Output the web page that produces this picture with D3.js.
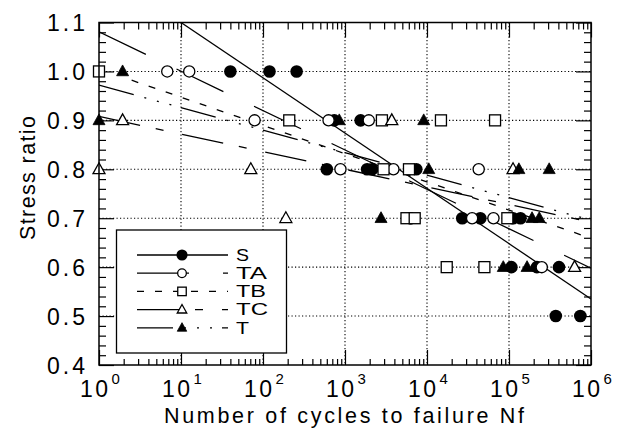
<!DOCTYPE html>
<html>
<head>
<meta charset="utf-8">
<script src="https://cdn.jsdelivr.net/npm/d3@7"></script>
<style>
  html, body { margin: 0; padding: 0; background: #fff; }
  svg { display: block; }
  text { font-family: "Liberation Sans", Arial, Helvetica, sans-serif; fill: #000; }
</style>
</head>
<body>
<svg id="chart" width="631" height="430"></svg>
<script>
// ---------------- DATA ----------------
const seriesNames = ["S", "TA", "TB", "TC", "T"];

// number of cycles (N) and stress ratio for each series
const sN  = [40, 120, 257, 740, 1550, 600, 1860, 2140, 7400, 26900, 44700, 112000, 138000, 107000, 219000, 407000, 372000, 741000];
const sV  = [1.0, 1.0, 1.0, 0.9, 0.9, 0.8, 0.8, 0.8, 0.8, 0.7, 0.7, 0.7, 0.7, 0.6, 0.6, 0.6, 0.5, 0.5];

const taN = [6.8, 12.6, 79, 630, 1950, 880, 3890, 42700, 6300, 35500, 64600, 251000];
const taV = [1.0, 1.0, 0.9, 0.9, 0.9, 0.8, 0.8, 0.8, 0.7, 0.7, 0.7, 0.6];

const tbN = [1, 209, 2820, 14800, 67600, 2950, 6030, 5620, 7080, 95500, 17400, 50100];
const tbV = [1.0, 0.9, 0.9, 0.9, 0.9, 0.8, 0.8, 0.7, 0.7, 0.7, 0.6, 0.6];

const tcN = [1.94, 3720, 1, 71, 112000, 190, 631000];
const tcV = [0.9, 0.9, 0.8, 0.8, 0.8, 0.7, 0.6];

const tN  = [1.94, 1, 851, 9120, 10500, 132000, 309000, 2750, 191000, 234000, 85100, 166000];
const tV  = [1.0, 0.9, 0.9, 0.9, 0.8, 0.8, 0.8, 0.7, 0.7, 0.7, 0.6, 0.6];

// fitted lines: start / end (N, stress ratio)
const fitN0 = [10, 1, 2.5, 1, 1];
const fitV0 = [1.1, 1.081, 0.982, 0.908, 0.972];
const fitN1 = [1e6, 1e6, 1e6, 1e6, 1e6];
const fitV1 = [0.535, 0.598, 0.659, 0.692, 0.696];

// axis ticks
const xDecades = [1, 10, 100, 1000, 10000, 100000, 1000000];
const xExponents = ["0", "1", "2", "3", "4", "5", "6"];
const yTickVals = [0.4, 0.5, 0.6, 0.7, 0.8, 0.9, 1.0, 1.1];
const yTickLabels = ["0.4", "0.5", "0.6", "0.7", "0.8", "0.9", "1.0", "1.1"];

// ---------------- STYLE ----------------
const dashes = [null, "52,34", "7,11", "42,16,8,19", "36,11,2,11,2,11,2,10"];
const markerKind = ["fcircle", "ocircle", "osquare", "otri", "ftri"];

const svg = d3.select("#chart");
const L = 99, R = 591, T = 22.5, B = 365;
const x = d3.scaleLog().domain([1, 1e6]).range([L, R]);
const y = d3.scaleLinear().domain([0.4, 1.1]).range([B, T]);

svg.append("rect").attr("width", 631).attr("height", 430).attr("fill", "#fff");

svg.append("defs").append("clipPath").attr("id", "plotclip")
  .append("rect").attr("x", L).attr("y", T).attr("width", R - L).attr("height", B - T);

// gridlines
const grid = svg.append("g").attr("stroke", "#000").attr("stroke-width", 1.1)
  .attr("stroke-dasharray", "1.2,2.3");
xDecades.slice(1, -1).forEach(v => {
  grid.append("line").attr("x1", x(v)).attr("x2", x(v)).attr("y1", T).attr("y2", B);
});
yTickVals.slice(1, -1).forEach(v => {
  grid.append("line").attr("x1", L).attr("x2", R).attr("y1", y(v)).attr("y2", y(v));
});

// ticks via d3 axes (inward)
const minorX = [];
for (let k = 0; k < 6; k++) for (let m = 2; m <= 9; m++) minorX.push(m * Math.pow(10, k));
const minorY = d3.range(0.42, 1.1, 0.02).map(v => +v.toFixed(2)).filter(v => Math.abs(v * 10 - Math.round(v * 10)) > 1e-6);

function styleAxis(g) {
  g.select(".domain").remove();
  g.selectAll("line").attr("stroke", "#000").attr("stroke-width", 1.2);
  g.selectAll("text").remove();
}
svg.append("g").attr("transform", `translate(0,${B})`)
  .call(d3.axisBottom(x).tickValues(xDecades).tickSize(-15).tickFormat("")).call(styleAxis);
svg.append("g").attr("transform", `translate(0,${B})`)
  .call(d3.axisBottom(x).tickValues(minorX).tickSize(-6).tickFormat("")).call(styleAxis);
svg.append("g").attr("transform", `translate(0,${T})`)
  .call(d3.axisTop(x).tickValues(xDecades).tickSize(-15).tickFormat("")).call(styleAxis);
svg.append("g").attr("transform", `translate(0,${T})`)
  .call(d3.axisTop(x).tickValues(minorX).tickSize(-7).tickFormat("")).call(styleAxis);
svg.append("g").attr("transform", `translate(${L},0)`)
  .call(d3.axisLeft(y).tickValues(yTickVals).tickSize(-15).tickFormat("")).call(styleAxis);
svg.append("g").attr("transform", `translate(${L},0)`)
  .call(d3.axisLeft(y).tickValues(minorY).tickSize(-7).tickFormat("")).call(styleAxis);
svg.append("g").attr("transform", `translate(${R},0)`)
  .call(d3.axisRight(y).tickValues(yTickVals).tickSize(-15).tickFormat("")).call(styleAxis);
svg.append("g").attr("transform", `translate(${R},0)`)
  .call(d3.axisRight(y).tickValues(minorY).tickSize(-7).tickFormat("")).call(styleAxis);

// fit lines
const lineGen = d3.line().x(d => x(d[0])).y(d => y(d[1]));
const lines = svg.append("g").attr("clip-path", "url(#plotclip)");
seriesNames.forEach((s, i) => {
  lines.append("path")
    .attr("d", lineGen([[fitN0[i], fitV0[i]], [fitN1[i], fitV1[i]]]))
    .attr("fill", "none").attr("stroke", "#000").attr("stroke-width", 1.3)
    .attr("stroke-dasharray", dashes[i]);
});

// markers
function drawMarker(g, kind, cx, cy, size) {
  const r = size / 2;
  if (kind === "fcircle") {
    g.append("circle").attr("cx", cx).attr("cy", cy).attr("r", r + 0.3).attr("fill", "#000");
  } else if (kind === "ocircle") {
    g.append("circle").attr("cx", cx).attr("cy", cy).attr("r", r - 0.4)
      .attr("fill", "#fff").attr("stroke", "#000").attr("stroke-width", 1.3);
  } else if (kind === "osquare") {
    g.append("rect").attr("x", cx - r + 0.5).attr("y", cy - r + 0.5)
      .attr("width", size - 1).attr("height", size - 1)
      .attr("fill", "#fff").attr("stroke", "#000").attr("stroke-width", 1.3);
  } else {
    const h = size * 0.9;
    const pts = [[cx, cy - h * 0.6], [cx - r, cy + h * 0.4], [cx + r, cy + h * 0.4]];
    g.append("polygon").attr("points", pts.map(p => p.join(",")).join(" "))
      .attr("fill", kind === "ftri" ? "#000" : "#fff")
      .attr("stroke", "#000").attr("stroke-width", kind === "ftri" ? 0.8 : 1.3);
  }
}
const allN = [sN, taN, tbN, tcN, tN];
const allV = [sV, taV, tbV, tcV, tV];
const marks = svg.append("g");
seriesNames.forEach((s, i) => {
  allN[i].forEach((n, j) => drawMarker(marks, markerKind[i], x(n), y(allV[i][j]), 12));
});

// frame
svg.append("rect").attr("x", L).attr("y", T).attr("width", R - L).attr("height", B - T)
  .attr("fill", "none").attr("stroke", "#000").attr("stroke-width", 1.5);

// tick labels
yTickVals.forEach((v, i) => {
  svg.append("text").attr("x", 85).attr("y", y(v) + 8.5)
    .attr("text-anchor", "end").attr("font-size", 23)
    .attr("textLength", 38).attr("lengthAdjust", "spacing")
    .text(yTickLabels[i]);
});
xDecades.forEach((v, i) => {
  svg.append("text").attr("x", x(v) + 9).attr("y", 396.5)
    .attr("text-anchor", "end").attr("font-size", 23)
    .attr("textLength", 28).attr("lengthAdjust", "spacing").text("10");
  svg.append("text").attr("x", x(v) + 12.5).attr("y", 383.5)
    .attr("font-size", 15).text(xExponents[i]);
});

// axis titles
svg.append("text").attr("x", 164).attr("y", 423).attr("font-size", 21.5)
  .attr("textLength", 360).attr("lengthAdjust", "spacing")
  .text("Number of cycles to failure  Nf");
svg.append("text").attr("transform", "translate(35,178) rotate(-90)")
  .attr("text-anchor", "middle").attr("font-size", 21.5)
  .attr("textLength", 124).attr("lengthAdjust", "spacing")
  .text("Stress ratio");

// legend
const lg = svg.append("g");
lg.append("rect").attr("x", 116.5).attr("y", 230).attr("width", 170).attr("height", 123)
  .attr("fill", "#fff").attr("stroke", "#000").attr("stroke-width", 1.3);
const legLabelW = [13, 31, 30, 32, 13];
seriesNames.forEach((s, i) => {
  const ly = 255 + i * 18.2;
  lg.append("line").attr("x1", 137).attr("x2", 228).attr("y1", ly).attr("y2", ly)
    .attr("stroke", "#000").attr("stroke-width", 1.3).attr("stroke-dasharray", dashes[i]);
  drawMarker(lg, markerKind[i], 182, ly, i === 0 ? 10.5 : 9.5);
  lg.append("text").attr("x", 236).attr("y", ly + 5.8).attr("font-size", 16.5)
    .attr("textLength", legLabelW[i]).attr("lengthAdjust", "spacingAndGlyphs").text(s);
});
</script>
</body>
</html>
